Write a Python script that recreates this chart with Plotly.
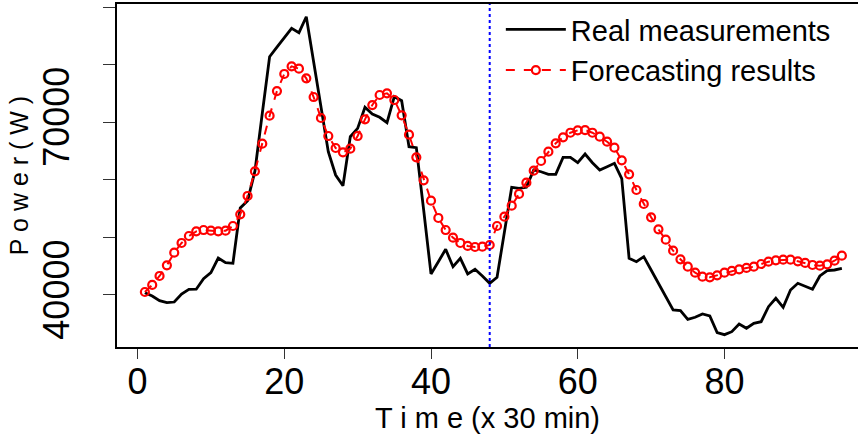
import plotly.graph_objects as go

time = list(range(1, 97))

real = [40400, 39830, 39010, 38670, 38780, 40170, 40990, 41000, 42830, 43870,
        46420, 45610, 45500, 55100, 56370, 61500, 71500, 81370, 83050, 84730,
        86290, 85540, 88310, 80510, 72690, 64880, 60830, 58980, 67480, 68930,
        72580, 71420, 70850, 69920, 74430, 73730, 65750, 65570, 54750, 43650,
        45780, 47930, 44910, 46370, 43650, 44460, 43300, 42030, 43070, 50710,
        58700, 58520, 58700, 61700, 61400, 60950, 60950, 63900, 63900, 62970,
        64480, 62970, 61700, 62280, 62860, 60200, 46370, 45780, 46650, 44340,
        42030, 39710, 37400, 37280, 35780, 36130, 36700, 36350, 33460, 33110,
        33630, 34970, 34220, 35090, 35370, 37970, 39430, 37860, 40870, 42030,
        41560, 40990, 43300, 44220, 44340, 44630]

forecast = [40520, 41740, 43300, 45150, 47350, 49030, 50240, 51050, 51280, 51160,
            51050, 51160, 51980, 54000, 57190, 61470, 66270, 71130, 75410, 78370,
            79700, 79290, 77620, 74370, 70730, 67600, 65520, 64770, 65400, 67600,
            70500, 72980, 74720, 75010, 73850, 71190, 67830, 63900, 59910, 56370,
            53370, 51280, 49950, 49030, 48510, 48330, 48390, 48680, 51980, 53600,
            55510, 57540, 59500, 61580, 63260, 64880, 66330, 67370, 68170, 68590,
            68640, 68170, 67480, 66610, 65570, 63380, 60950, 58230, 55800, 53490,
            51400, 49600, 47690, 46200, 44910, 43870, 43180, 43070, 43420, 43870,
            44170, 44460, 44690, 44910, 45380, 45780, 46020, 46130, 46130, 45850,
            45560, 45210, 45090, 45330, 45950, 46820]

split_time = 48

x_tick_vals = [0, 20, 40, 60, 80]
x_tick_text = ["0", "20", "40", "60", "80"]
y_tick_vals = [40000, 50000, 60000, 70000, 80000, 90000]
y_tick_text = ["40000", "", "", "70000", "", ""]

FONT = "Liberation Sans, Arial, sans-serif"

fig = go.Figure()
fig.add_trace(go.Scatter(
    x=time, y=real, mode="lines", name="Real measurements",
    line=dict(color="black", width=2.8),
))
fig.add_trace(go.Scatter(
    x=time, y=forecast, mode="lines+markers", name="Forecasting results",
    line=dict(color="red", width=2, dash="dash"),
    marker=dict(symbol="circle-open", size=8, color="red", line=dict(width=2.2, color="red")),
))
fig.add_vline(x=split_time, line=dict(color="blue", width=2, dash="dot"))

fig.update_layout(
    width=858, height=435,
    margin=dict(l=117, r=0, t=4, b=88, autoexpand=False),
    paper_bgcolor="white", plot_bgcolor="white",
    font=dict(family=FONT, color="black"),
    showlegend=True,
    legend=dict(
        x=0.518, y=1.0, xanchor="left", yanchor="top",
        bgcolor="rgba(0,0,0,0)", font=dict(size=29, family=FONT),
        itemwidth=60, tracegroupgap=0,
    ),
    xaxis=dict(
        range=[-2.8, 98.2], tickvals=x_tick_vals, ticktext=x_tick_text,
        automargin=False,
        showgrid=False, zeroline=False, showline=True, linecolor="black", linewidth=1.5,
        mirror=True, ticks="outside", ticklen=10, tickwidth=1.2, tickcolor="#333",
        tickfont=dict(size=36, family=FONT), ticklabelstandoff=-8,
        title=dict(text="T i m e (x 30 min)", font=dict(size=29, family=FONT), standoff=4),
    ),
    yaxis=dict(
        range=[30970, 90520], tickvals=y_tick_vals, ticktext=y_tick_text,
        automargin=False,
        showgrid=False, zeroline=False, showline=True, linecolor="black", linewidth=1.5,
        mirror=False, ticks="outside", ticklen=12, tickwidth=1.2, tickcolor="#333",
        tickangle=-90, tickfont=dict(size=36, family=FONT), ticklabelstandoff=20,
        title=dict(text="P o w e r ( W )", font=dict(size=25, family=FONT), standoff=0),
    ),
)

fig.write_html("out.html", config={"displayModeBar": False},
               post_script="document.body.style.margin='0px';")
